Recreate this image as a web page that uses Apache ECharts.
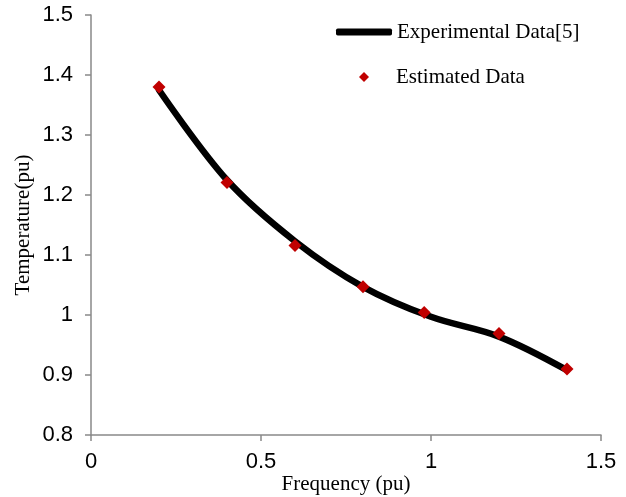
<!DOCTYPE html>
<html>
<head>
<meta charset="utf-8">
<script src="https://cdn.jsdelivr.net/npm/echarts@6/dist/echarts.min.js"></script>
<style>
html,body{margin:0;padding:0;background:#fff;}
#chart{width:626px;height:497px;}
</style>
</head>
<body>
<div id="chart"></div>
<script>
// Experimental curve (Frequency pu, Temperature pu)
var expFreq = [0.2, 0.4, 0.6, 0.8, 1.0, 1.2, 1.4];
var expTemp = [1.375, 1.225, 1.123, 1.047, 0.997, 0.964, 0.908];
// Estimated points
var estFreq = [0.2, 0.4, 0.6, 0.8, 0.98, 1.2, 1.4];
var estTemp = [1.38, 1.221, 1.116, 1.047, 1.004, 0.969, 0.91];

var xTicks = [0, 0.5, 1, 1.5];
var yTicks = [0.8, 0.9, 1, 1.1, 1.2, 1.3, 1.4, 1.5];

var expData = expFreq.map(function (x, i) { return [x, expTemp[i]]; });
var estData = estFreq.map(function (x, i) { return [x, estTemp[i]]; });

var chart = echarts.init(document.getElementById('chart'), null, {renderer: 'canvas'});
var axisColor = '#898989';
var serif = '"Liberation Serif", "Times New Roman", serif';
var sans = '"Liberation Sans", Arial, sans-serif';

chart.setOption({
  animation: false,
  backgroundColor: '#fff',
  grid: {left: 91, right: 25, top: 15, bottom: 62, containLabel: false, outerBoundsMode: 'none'},
  legend: [
    {
      data: ['Experimental Data[5]'],
      left: 336, top: 20, padding: 0,
      itemWidth: 56, itemHeight: 7,
      icon: 'roundRect',
      textStyle: {fontFamily: serif, fontSize: 21, color: '#000', lineHeight: 24}
    },
    {
      data: ['Estimated Data'],
      left: 359, top: 65, padding: 0,
      itemWidth: 10, itemHeight: 10,
      icon: 'diamond',
      textStyle: {fontFamily: serif, fontSize: 21, color: '#000', lineHeight: 24, padding: [0, 0, 0, 22]}
    }
  ],
  xAxis: {
    type: 'value',
    min: 0, max: 1.5, interval: 0.5,
    name: 'Frequency (pu)',
    nameLocation: 'middle',
    nameGap: 39,
    nameMoveOverlap: false,
    nameTextStyle: {fontFamily: serif, fontSize: 21, color: '#000'},
    axisLine: {show: true, lineStyle: {color: axisColor, width: 1.5}},
    axisTick: {show: true, length: 6, lineStyle: {color: axisColor, width: 1.5}},
    axisLabel: {fontFamily: sans, fontSize: 22, color: '#000', margin: 16,
      formatter: function (v) { return xTicks.indexOf(v) >= 0 ? String(v) : ''; }},
    splitLine: {show: false}
  },
  yAxis: {
    type: 'value',
    min: 0.8, max: 1.5, interval: 0.1,
    name: 'Temperature(pu)',
    nameLocation: 'middle',
    nameGap: 57,
    nameMoveOverlap: false,
    nameTextStyle: {fontFamily: serif, fontSize: 21, color: '#000'},
    axisLine: {show: true, lineStyle: {color: axisColor, width: 1.5}},
    axisTick: {show: true, length: 6, lineStyle: {color: axisColor, width: 1.5}},
    axisLabel: {fontFamily: sans, fontSize: 22, color: '#000', margin: 18,
      formatter: function (v) {
        var r = Math.round(v * 10) / 10;
        return yTicks.indexOf(r) >= 0 ? String(r) : '';
      }},
    splitLine: {show: false}
  },
  series: [
    {
      name: 'Experimental Data[5]',
      type: 'line',
      data: expData,
      smooth: 0.35,
      showSymbol: false,
      symbol: 'none',
      itemStyle: {color: '#000'},
      lineStyle: {color: '#000', width: 6.5, cap: 'round'},
      z: 2
    },
    {
      name: 'Estimated Data',
      type: 'scatter',
      data: estData,
      symbol: 'diamond',
      symbolSize: 13,
      itemStyle: {color: '#C00000', opacity: 1},
      z: 3
    }
  ]
});
</script>
</body>
</html>
